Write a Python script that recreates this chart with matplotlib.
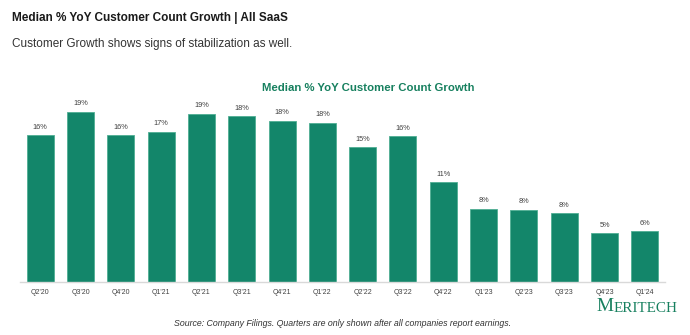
import matplotlib.pyplot as plt
import numpy as np

plt.rcParams['font.family'] = ['Liberation Sans', 'DejaVu Sans']

# quarterly median YoY customer count growth, in %
quarters = ["Q2'20", "Q3'20", "Q4'20", "Q1'21", "Q2'21", "Q3'21", "Q4'21", "Q1'22",
            "Q2'22", "Q3'22", "Q4'22", "Q1'23", "Q2'23", "Q3'23", "Q4'23", "Q1'24"]
growth = [16.2, 18.8, 16.2, 16.6, 18.6, 18.3, 17.8, 17.6,
          14.9, 16.1, 11.0, 8.1, 8.0, 7.6, 5.4, 5.6]

GREEN = '#13866a'
TITLE_GREEN = '#17805f'
TEXT = '#404040'

W, H = 690, 335
fig = plt.figure(figsize=(W / 100, H / 100), dpi=100)
fig.patch.set_facecolor('white')

# axes placed in pixel terms: x 20..665, baseline at y=282
ax = fig.add_axes([20 / W, 1 - 282 / H, 645 / W, 181 / H])
x = np.arange(len(quarters))
bars = ax.bar(x, growth, width=0.67, color=GREEN, edgecolor='#4fae93', linewidth=0.6)

for xi, v in zip(x, growth):
    ax.text(xi, v + 0.5, f'{v:.0f}%', ha='center', va='bottom', fontsize=5.3, color=TEXT)

ax.set_xlim(-0.5, len(quarters) - 0.5)
ax.set_ylim(0, 20)
ax.set_xticks(x)
ax.set_xticklabels(quarters, fontsize=5, color=TEXT)
ax.tick_params(axis='x', length=0, pad=5)
ax.set_yticks([])
for side in ['left', 'right', 'top']:
    ax.spines[side].set_visible(False)
ax.spines['bottom'].set_color('#d9d9d9')
ax.spines['bottom'].set_linewidth(1.0)

# headings
fig.text(12 / W, 1 - 18 / H, 'Median % YoY Customer Count Growth | All SaaS',
         fontsize=8.5, fontweight='bold', color='#1a1a1a', va='center', ha='left')
fig.text(12 / W, 1 - 44 / H, 'Customer Growth shows signs of stabilization as well.',
         fontsize=8.5, color='#333333', va='center', ha='left')
fig.text(368 / W, 1 - 88 / H, 'Median % YoY Customer Count Growth',
         fontsize=8.2, fontweight='bold', color=TITLE_GREEN, va='center', ha='center')

# logo: small-caps wordmark, the rest attached right after the big M
m = fig.text(596 / W, 1 - 311 / H, 'M', family='Liberation Serif', fontsize=13.9,
             color=TITLE_GREEN, va='baseline', ha='left')
fig.canvas.draw()
ax.annotate('ERITECH', xy=(1.0, 0), xycoords=m, xytext=(0.3, 0), textcoords='offset points',
            family='Liberation Serif', fontsize=10.9, color=TITLE_GREEN,
            va='bottom', ha='left', annotation_clip=False)

fig.text(343 / W, 1 - 323 / H,
         'Source: Company Filings. Quarters are only shown after all companies report earnings.',
         fontsize=6.3, style='italic', color='#333333', va='center', ha='center')

fig.savefig('out.png', dpi=100, facecolor='white')
